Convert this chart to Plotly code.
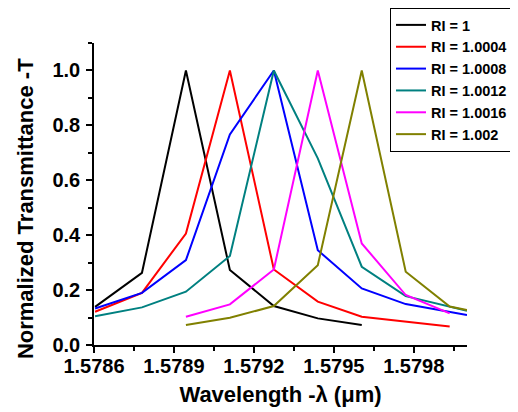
import plotly.graph_objects as go

# Wavelength sample points (µm)
wl = [1.578604, 1.57878, 1.578945, 1.57911, 1.579275, 1.57944, 1.579605, 1.57977, 1.579935, 1.58000]

names = ["RI = 1", "RI = 1.0004", "RI = 1.0008", "RI = 1.0012", "RI = 1.0016", "RI = 1.002"]
colors = ["#000000", "#ff0000", "#0000ff", "#008080", "#ff00ff", "#808000"]

x_ri1 = [wl[0], wl[1], wl[2], wl[3], wl[4], wl[5], wl[6]]
y_ri1 = [0.139, 0.263, 1.0, 0.273, 0.142, 0.097, 0.073]

x_ri10004 = [wl[0], wl[1], wl[2], wl[3], wl[4], wl[5], wl[6], wl[7], wl[8]]
y_ri10004 = [0.121, 0.19, 0.406, 1.0, 0.275, 0.158, 0.103, 0.085, 0.067]

x_ri10008 = [wl[0], wl[1], wl[2], wl[3], wl[4], wl[5], wl[6], wl[7], wl[9]]
y_ri10008 = [0.133, 0.19, 0.309, 0.767, 1.0, 0.345, 0.206, 0.149, 0.109]

x_ri10012 = [wl[0], wl[1], wl[2], wl[3], wl[4], wl[5], wl[6], wl[7], wl[9]]
y_ri10012 = [0.105, 0.137, 0.194, 0.324, 1.0, 0.68, 0.285, 0.178, 0.125]

x_ri10016 = [wl[2], wl[3], wl[4], wl[5], wl[6], wl[7], wl[8]]
y_ri10016 = [0.103, 0.148, 0.275, 1.0, 0.37, 0.182, 0.115]

x_ri1002 = [wl[2], wl[3], wl[4], wl[5], wl[6], wl[7], wl[8], wl[9]]
y_ri1002 = [0.073, 0.099, 0.142, 0.291, 1.0, 0.267, 0.14, 0.127]

xs = [x_ri1, x_ri10004, x_ri10008, x_ri10012, x_ri10016, x_ri1002]
ys = [y_ri1, y_ri10004, y_ri10008, y_ri10012, y_ri10016, y_ri1002]

x_title = "Wavelength -λ (μm)"
y_title = "Normalized Transmittance -T"

FONT = "Liberation Sans, Arial, sans-serif"

fig = go.Figure()
for x, y, n, c in zip(xs, ys, names, colors):
    fig.add_trace(go.Scatter(x=x, y=y, mode="lines", name=n,
                             line=dict(color=c, width=2)))

axis_common = dict(
    showline=True, linecolor="black", linewidth=1.5,
    ticks="outside", ticklen=6, tickwidth=1.5, tickcolor="black",
    showgrid=False, zeroline=False, mirror=False, automargin=False,
    tickfont=dict(family=FONT, size=20, color="black", weight="bold"),
)

fig.update_xaxes(
    range=[1.5786, 1.5800], tick0=1.5786, dtick=0.0003, tickformat=".4f", ticklabelstandoff=-4,
    minor=dict(dtick=0.00015, tick0=1.5786, ticks="outside", ticklen=4, tickcolor="black", tickwidth=1.5),
    title=dict(text=x_title, font=dict(family=FONT, size=22, color="black", weight="bold"), standoff=11),
    **axis_common,
)
fig.update_yaxes(
    range=[0, 1.1], tick0=0, dtick=0.2, tickformat=".1f", ticklabelstandoff=2,
    minor=dict(dtick=0.1, tick0=0, ticks="outside", ticklen=4, tickcolor="black", tickwidth=1.5),
    **axis_common,
)

# y-axis title, placed slightly below the plot centre as in the reference
fig.add_annotation(
    text=y_title, textangle=-90, showarrow=False,
    xref="paper", yref="paper", x=0, y=0.45, xanchor="center", yanchor="middle",
    xshift=-69, font=dict(family=FONT, size=22, color="black", weight="bold"),
)

# The page adds an 8px body margin, so the figure is sized 8px smaller
fig.update_layout(
    width=510, height=404,
    margin=dict(l=86, r=51, t=35, b=67, autoexpand=False),
    plot_bgcolor="white", paper_bgcolor="white",
    font=dict(family=FONT, color="black"),
    legend=dict(
        x=0.7936, y=1.116, xanchor="left", yanchor="top",
        bordercolor="black", borderwidth=1, bgcolor="white",
        font=dict(family=FONT, size=14.5, color="black", weight="bold"),
        tracegroupgap=0, itemwidth=30,
    ),
    showlegend=True,
)

fig.write_html("out.html")
